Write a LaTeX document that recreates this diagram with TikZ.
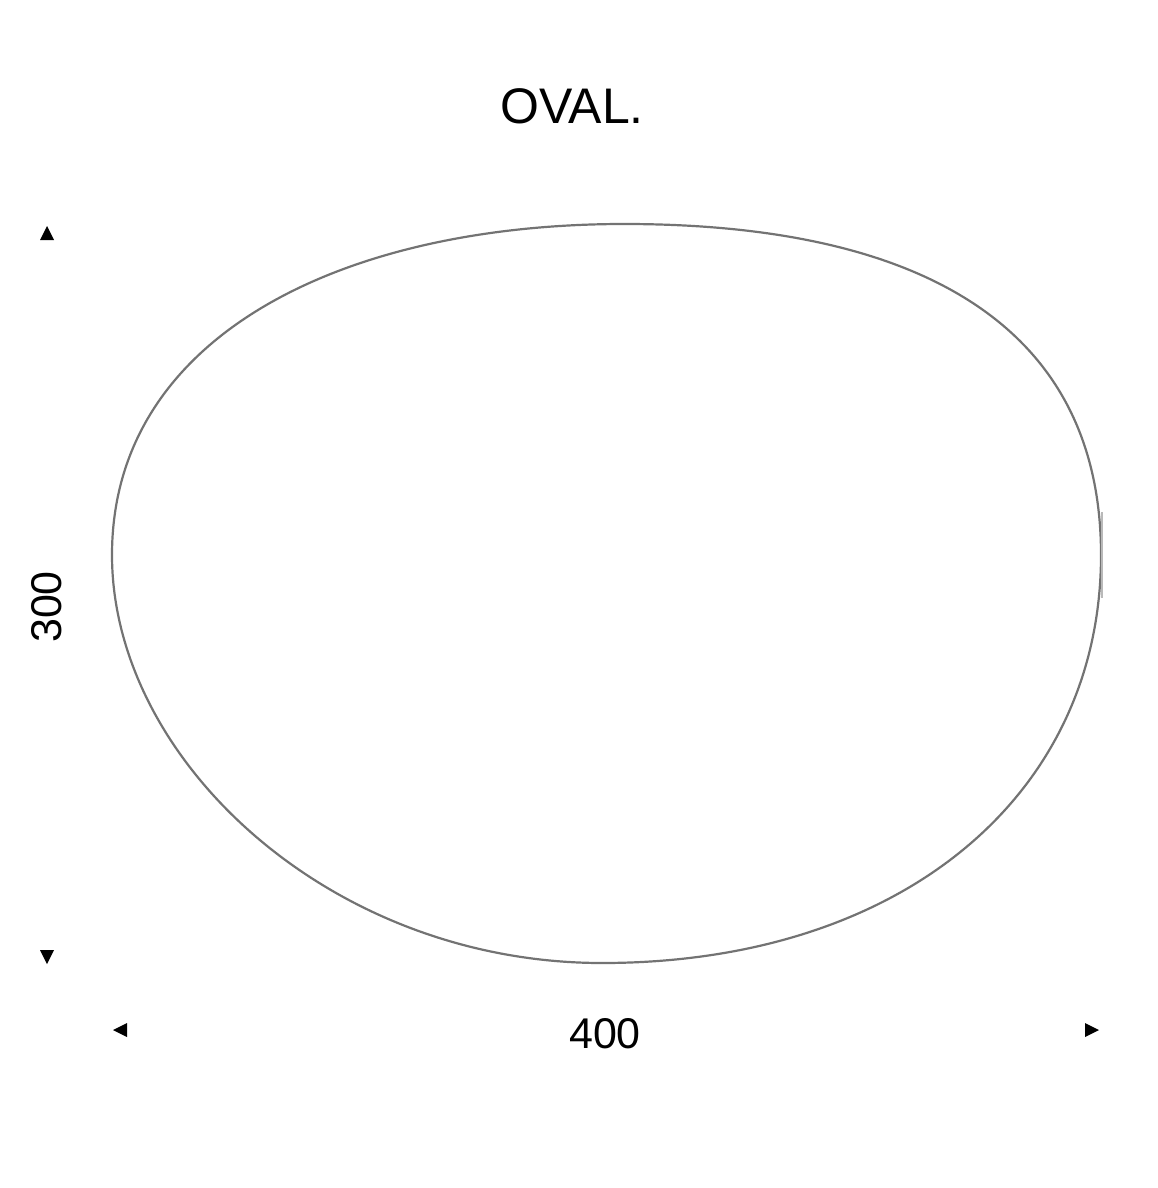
\documentclass[tikz,border=0pt]{standalone}
\usepackage{fontspec}
\setmainfont{Liberation Sans}
\tikzset{every picture/.style={line width=0.75pt}}
\tikzset{arrowtip/.style={fill=black, draw=none}}

\begin{document}
\begin{tikzpicture}[x=1pt,y=1pt,yscale=-1,xscale=1]
\useasboundingbox (0,0) rectangle (1158,1188);

%Shape: Oval
\draw [color={rgb, 255:red, 115; green, 115; blue, 115 }, line width=2.2pt]  (624,224) .. controls (934,224) and (1101,335) .. (1101,555) .. controls (1101,795) and (902,963) .. (602,963) .. controls (330,963) and (112,760) .. (112,555) .. controls (112,335) and (344,224) .. (624,224) -- cycle ;
%Straight Lines
\draw [color={rgb, 255:red, 185; green, 185; blue, 185 }, line width=2.5pt]  (1102,512) -- (1102,598) ;

%Shape: Triangles
\fill [arrowtip] (47,226) -- (40,240) -- (54,240) -- cycle ;
\fill [arrowtip] (47,964) -- (40,950) -- (54,950) -- cycle ;
\fill [arrowtip] (113,1030) -- (127,1023) -- (127,1037) -- cycle ;
\fill [arrowtip] (1099,1030) -- (1085,1023) -- (1085,1037) -- cycle ;

% Text Node
\node (title) at (572,106) [inner sep=0pt, font=\fontsize{50}{60}\selectfont] {OVAL.};
% Text Node
\node (height) at (47,607) [inner sep=0pt, rotate=90, font=\fontsize{43}{52}\selectfont] {300};
% Text Node
\node (width) at (605,1034) [inner sep=0pt, font=\fontsize{43}{52}\selectfont] {400};

\end{tikzpicture}
\end{document}
